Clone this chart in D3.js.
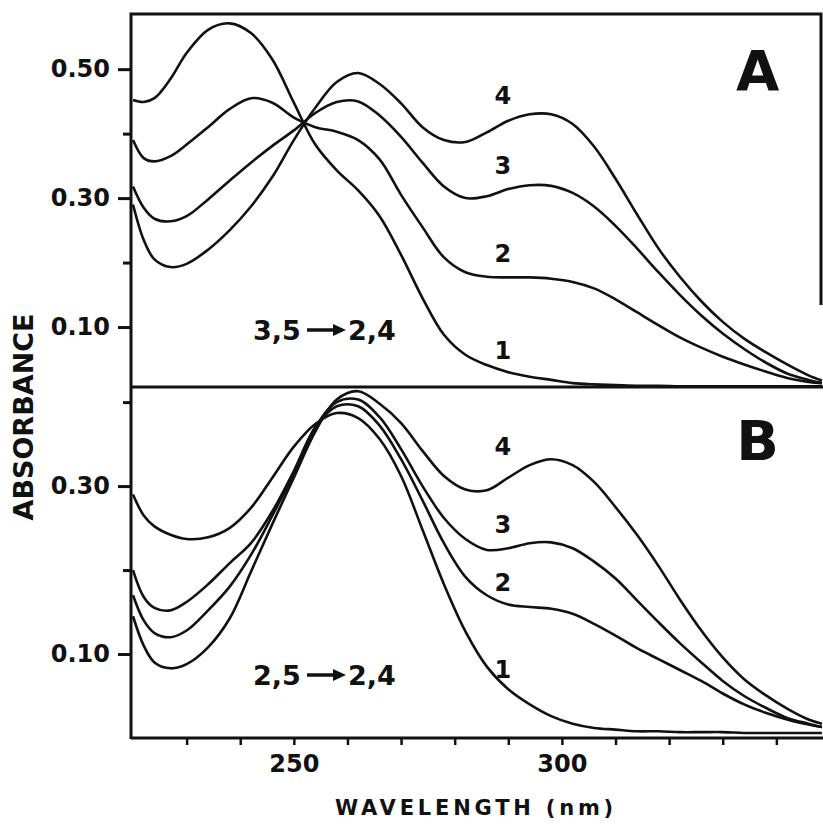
<!DOCTYPE html>
<html>
<head>
<meta charset="utf-8">
<script src="https://cdn.jsdelivr.net/npm/d3@7"></script>
<style>
  body { margin: 0; background: #fff; }
  text { font-family: "DejaVu Sans", sans-serif; font-weight: bold; fill: #111; }
</style>
</head>
<body>
<script>

// wavelength grid (nm) shared by all spectra
var wavelength = [220,222,224,227,230,234,238,242,246,250,254,258,262,266,270,274,278,282,286,290,294,298,302,306,310,314,318,322,326,330,334,338,342,346,348.5];

// panel A : 3,5 -> 2,4
var a1 = [0.452,0.449,0.455,0.485,0.525,0.561,0.571,0.556,0.515,0.448,0.383,0.343,0.312,0.272,0.212,0.145,0.088,0.057,0.041,0.030,0.023,0.018,0.013,0.011,0.010,0.009,0.009,0.008,0.008,0.008,0.008,0.008,0.008,0.008,0.008];
var a2 = [0.390,0.362,0.357,0.365,0.383,0.410,0.438,0.455,0.448,0.425,0.410,0.403,0.390,0.360,0.305,0.255,0.208,0.185,0.178,0.177,0.177,0.175,0.170,0.160,0.143,0.123,0.103,0.084,0.068,0.054,0.042,0.031,0.021,0.015,0.013];
var a3 = [0.318,0.285,0.268,0.264,0.272,0.298,0.327,0.355,0.381,0.405,0.432,0.449,0.450,0.428,0.395,0.355,0.318,0.300,0.303,0.314,0.320,0.319,0.308,0.287,0.257,0.222,0.185,0.150,0.118,0.090,0.066,0.045,0.028,0.018,0.013];
var a4 = [0.290,0.235,0.205,0.193,0.198,0.220,0.250,0.287,0.333,0.390,0.440,0.480,0.494,0.477,0.447,0.410,0.390,0.387,0.402,0.420,0.430,0.430,0.415,0.380,0.330,0.275,0.222,0.178,0.140,0.108,0.082,0.061,0.042,0.025,0.017];

// panel B : 2,5 -> 2,4
var b1 = [0.290,0.265,0.252,0.242,0.237,0.239,0.250,0.274,0.310,0.347,0.374,0.387,0.381,0.356,0.312,0.248,0.183,0.127,0.085,0.058,0.040,0.026,0.017,0.012,0.010,0.008,0.008,0.007,0.007,0.007,0.006,0.006,0.006,0.006,0.006];
var b2 = [0.200,0.168,0.155,0.152,0.162,0.183,0.208,0.232,0.270,0.318,0.370,0.395,0.395,0.372,0.332,0.283,0.232,0.192,0.170,0.159,0.156,0.154,0.148,0.136,0.122,0.107,0.094,0.081,0.068,0.053,0.040,0.030,0.022,0.016,0.013];
var b3 = [0.170,0.140,0.125,0.120,0.128,0.152,0.180,0.218,0.265,0.315,0.370,0.400,0.403,0.382,0.344,0.300,0.262,0.237,0.224,0.226,0.232,0.233,0.226,0.210,0.190,0.164,0.138,0.113,0.090,0.068,0.050,0.036,0.024,0.017,0.013];
var b4 = [0.145,0.110,0.090,0.083,0.088,0.108,0.142,0.198,0.255,0.310,0.365,0.403,0.413,0.398,0.375,0.342,0.312,0.296,0.295,0.310,0.325,0.332,0.325,0.305,0.275,0.242,0.205,0.165,0.128,0.096,0.070,0.051,0.035,0.022,0.017];

var curveNames = ["1", "2", "3", "4"];
var yTicksA = [0.10, 0.30, 0.50], yMinorA = [0.20, 0.40];
var yTicksB = [0.10, 0.30], yMinorB = [0.20, 0.40];
var xTicks = [230,240,250,260,270,280,290,300,310,320,330,340];
var xLabels = [250, 300];

var W = 823, H = 827;
var left = 131, right = 821;

var svg = d3.select("body").append("svg")
    .attr("width", W)
    .attr("height", H);

var x = d3.scaleLinear().domain([220, 348.7]).range([133, 823]);
var yA = d3.scaleLinear().domain([0.007, 0.584]).range([387, 15]);
var yB = d3.scaleLinear().domain([0.0, 0.418]).range([738, 387]);

svg.append("clipPath").attr("id", "clipA")
  .append("rect").attr("x", left).attr("y", 15).attr("width", W - left).attr("height", 372);
svg.append("clipPath").attr("id", "clipB")
  .append("rect").attr("x", left).attr("y", 387).attr("width", W - left).attr("height", 351);

function drawPanel(series, y, clip, ticks, minor, letter, fromTxt, labelOffsets) {
  var line = d3.line()
      .x(function(d, i) { return x(wavelength[i]); })
      .y(function(d) { return y(d); })
      .curve(d3.curveCatmullRom.alpha(0.5));

  svg.append("g").attr("clip-path", "url(#" + clip + ")")
    .selectAll("path")
    .data(series)
    .enter().append("path")
      .attr("d", line)
      .attr("fill", "none")
      .attr("stroke", "#111")
      .attr("stroke-width", 2.6)
      .attr("stroke-linejoin", "round");

  // y ticks
  var ax = svg.append("g").attr("transform", "translate(" + left + ",0)")
      .call(d3.axisLeft(y).tickValues(ticks).tickSize(13).tickPadding(8).tickFormat(d3.format(".2f")));
  ax.select(".domain").remove();
  ax.selectAll("line").attr("stroke", "#111").attr("stroke-width", 3);
  ax.selectAll("text").attr("font-size", 24).attr("fill", "#111");

  var mx = svg.append("g").attr("transform", "translate(" + left + ",0)")
      .call(d3.axisLeft(y).tickValues(minor).tickSize(8).tickFormat(""));
  mx.select(".domain").remove();
  mx.selectAll("line").attr("stroke", "#111").attr("stroke-width", 3);

  // curve numbers, just above each curve near 289 nm
  var k = wavelength.indexOf(290);
  svg.selectAll(null)
    .data(series)
    .enter().append("text")
      .attr("x", x(289))
      .attr("y", function(d, i) { return y(d[k]) - labelOffsets[i]; })
      .attr("text-anchor", "middle")
      .attr("font-size", 24)
      .text(function(d, i) { return curveNames[i]; });

  // panel letter
  svg.append("text")
    .attr("x", x(336.5))
    .attr("y", y.range()[1] + (letter == "A" ? 75 : 73))
    .attr("text-anchor", "middle")
    .attr("font-size", 56)
    .text(letter);

  // reaction text with arrow
  var base = y.range()[0] - (letter == "A" ? 47 : 53);
  svg.append("text").attr("x", 253).attr("y", base).attr("font-size", 27).text(fromTxt);
  svg.append("text").attr("x", 348).attr("y", base).attr("font-size", 27).text("2,4");
  svg.append("line")
    .attr("x1", 307).attr("x2", 336)
    .attr("y1", base - 10).attr("y2", base - 10)
    .attr("stroke", "#111").attr("stroke-width", 3.5);
  svg.append("path")
    .attr("d", "M333," + (base - 16) + " L346," + (base - 10) + " L333," + (base - 4) + " Z")
    .attr("fill", "#111");
}

drawPanel([a1, a2, a3, a4], yA, "clipA", yTicksA, yMinorA, "A", "3,5", [13, 15, 15, 17]);
drawPanel([b1, b2, b3, b4], yB, "clipB", yTicksB, yMinorB, "B", "2,5", [11, 13, 15, 23]);

// frame
var frame = svg.append("g").attr("stroke", "#111").attr("stroke-width", 3).attr("fill", "none");
frame.append("path").attr("d", "M" + left + ",739 L" + left + ",14 L" + right + ",14 L" + right + ",305");
frame.append("line").attr("x1", left).attr("x2", W).attr("y1", 387).attr("y2", 387);

// x axis
var xa = svg.append("g").attr("transform", "translate(0,738)")
    .call(d3.axisBottom(x).tickValues(xTicks).tickSize(7).tickPadding(10)
      .tickFormat(function(d) { return xLabels.indexOf(d) >= 0 ? d : ""; }));
xa.select(".domain").remove();
xa.selectAll("line").attr("stroke", "#111").attr("stroke-width", 2.5);
xa.selectAll("text").attr("font-size", 24).attr("fill", "#111");
svg.append("line").attr("x1", left).attr("x2", W).attr("y1", 738).attr("y2", 738)
    .attr("stroke", "#111").attr("stroke-width", 3);

// axis titles
svg.append("text")
    .attr("x", 476).attr("y", 815)
    .attr("text-anchor", "middle")
    .attr("font-size", 21)
    .attr("letter-spacing", 3.8)
    .text("WAVELENGTH (nm)");

svg.append("text")
    .attr("transform", "translate(33,417) rotate(-90)")
    .attr("text-anchor", "middle")
    .attr("font-size", 27)
    .text("ABSORBANCE");

</script>
</body>
</html>
